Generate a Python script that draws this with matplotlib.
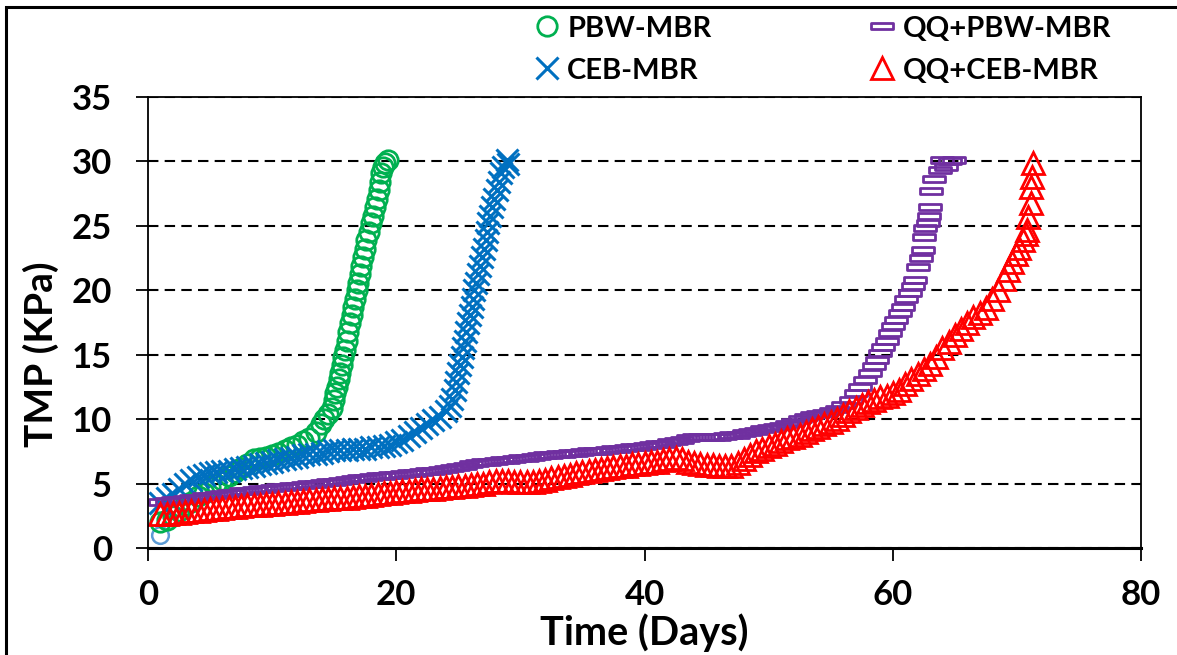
import matplotlib
matplotlib.use("Agg")
import matplotlib.pyplot as plt
from matplotlib.path import Path
from matplotlib.patches import Rectangle

plt.rcParams['font.family'] = ['Lato', 'DejaVu Sans']
plt.rcParams['font.weight'] = 'bold'

# PBW-MBR (green circles)
pbw_days = [1.0, 1.5, 2.0, 2.5, 3.0, 3.5, 4.0, 4.5, 5.0, 5.5, 6.0, 6.5, 7.0, 7.5, 8.0, 8.5,
            9.0, 9.5, 10.0, 10.5, 11.0, 11.5, 12.0, 12.5, 13.0, 13.5, 13.9, 14.2, 14.5, 14.8,
            14.95, 15.1, 15.2, 15.35, 15.5, 15.6, 15.7, 15.85, 16.0, 16.15, 16.3, 16.4, 16.5,
            16.65, 16.8, 16.95, 17.1, 17.2, 17.3, 17.45, 17.6, 17.8, 18.0, 18.15, 18.3, 18.45,
            18.6, 18.7, 18.75, 18.9, 19.1, 19.3]
pbw_tmp = [2.0, 2.2, 2.5, 2.9, 3.3, 3.6, 4.0, 4.3, 4.7, 5.0, 5.3, 5.6, 5.9, 6.2, 6.5, 6.9,
           7.0, 7.1, 7.2, 7.4, 7.6, 7.8, 8.0, 8.3, 8.5, 9.0, 9.6, 10.0, 10.4, 10.9,
           11.5, 12.0, 12.5, 13.1, 13.6, 14.2, 14.8, 15.4, 16.1, 16.8, 17.5, 18.1, 18.7,
           19.3, 20.0, 20.6, 21.3, 21.9, 22.6, 23.2, 23.9, 24.5, 25.2, 25.8, 26.5, 27.1,
           27.8, 28.4, 29.1, 29.6, 29.9, 30.1]

# CEB-MBR (blue crosses)
ceb_days = [1.0, 1.5, 2.0, 2.5, 3.0, 3.5, 4.0, 4.5, 5.0, 5.5, 6.0, 6.5, 7.0, 7.5, 8.0, 8.5,
            9.0, 9.5, 10.0, 10.5, 11.0, 11.5, 12.0, 12.5, 13.0, 13.5, 14.0, 14.5, 15.0, 15.5,
            16.0, 16.5, 17.0, 17.5, 18.0, 18.5, 19.0, 19.5, 20.0, 20.5, 21.0, 21.5, 22.0, 22.5,
            23.0, 23.5, 24.0, 24.3, 24.5, 24.7, 24.85, 25.0, 25.15, 25.3, 25.4, 25.5, 25.65,
            25.8, 25.95, 26.1, 26.2, 26.3, 26.45, 26.6, 26.75, 26.9, 27.05, 27.2, 27.3, 27.4,
            27.55, 27.7, 27.9, 28.1, 28.25, 28.4, 28.6, 28.9, 29.0]
ceb_tmp = [3.5, 3.9, 4.2, 4.6, 5.0, 5.3, 5.5, 5.7, 5.8, 5.9, 6.0, 6.0, 6.1, 6.2, 6.3, 6.4,
           6.5, 6.6, 6.7, 6.8, 6.9, 7.0, 7.1, 7.2, 7.3, 7.3, 7.4, 7.5, 7.6, 7.6,
           7.6, 7.7, 7.7, 7.7, 7.8, 7.8, 7.9, 8.0, 8.2, 8.4, 8.7, 9.0, 9.3, 9.6,
           9.9, 10.2, 10.6, 11.0, 11.6, 12.3, 12.9, 13.6, 14.2, 14.8, 15.5, 16.1, 16.8,
           17.5, 18.1, 18.7, 19.3, 20.0, 20.6, 21.3, 21.9, 22.6, 23.2, 23.9, 24.5, 25.2,
           25.8, 26.5, 27.1, 27.8, 28.4, 29.1, 29.6, 30.1, 29.8]

# QQ+PBW-MBR (purple bars)
qqpbw_days = [1.0, 1.5, 2.0, 2.5, 3.0, 3.5, 4.0, 4.5, 5.0, 5.5, 6.0, 6.5, 7.0, 7.5, 8.0, 8.5,
              9.0, 9.5, 10.0, 10.5, 11.0, 11.5, 12.0, 12.5, 13.0, 13.5, 14.0, 14.5, 15.0, 15.5,
              16.0, 16.5, 17.0, 17.5, 18.0, 18.5, 19.0, 19.5, 20.0, 20.5, 21.0, 21.5, 22.0, 22.5,
              23.0, 23.5, 24.0, 24.5, 25.0, 25.5, 26.0, 26.5, 27.0, 27.5, 28.0, 28.5, 29.0, 29.5,
              30.0, 30.5, 31.0, 31.5, 32.0, 32.5, 33.0, 33.5, 34.0, 34.5, 35.0, 35.5, 36.0, 36.5,
              37.0, 37.5, 38.0, 38.5, 39.0, 39.5, 40.0, 40.5, 41.0, 41.5, 42.0, 42.5, 43.0, 43.5,
              44.0, 44.5, 45.0, 45.5, 46.0, 46.5, 47.0, 47.5, 48.0, 48.5, 49.0, 49.5, 50.0, 50.5,
              51.0, 51.5, 52.0, 52.5, 53.0, 53.5, 54.0, 54.5, 55.0, 55.5, 56.0, 56.6, 57.0, 57.4,
              57.8, 58.2, 58.45, 58.7, 58.95, 59.2, 59.5, 59.8, 60.05, 60.3, 60.55, 60.8, 61.1,
              61.4, 61.6, 61.8, 62.0, 62.3, 62.4, 62.5, 62.6, 62.8, 62.9, 63.0, 63.1, 63.3, 63.8,
              64.0, 64.3, 64.6, 64.9]
qqpbw_tmp = [3.6, 3.65, 3.7, 3.75, 3.8, 3.85, 3.9, 4.0, 4.05, 4.1, 4.2, 4.25, 4.3, 4.4, 4.45, 4.5,
             4.55, 4.6, 4.65, 4.7, 4.75, 4.8, 4.85, 4.9, 4.95, 5.0, 5.05, 5.1, 5.15, 5.2,
             5.3, 5.35, 5.4, 5.45, 5.5, 5.55, 5.6, 5.65, 5.7, 5.75, 5.8, 5.85, 5.9, 5.95,
             6.0, 6.05, 6.1, 6.2, 6.3, 6.4, 6.5, 6.6, 6.7, 6.7, 6.75, 6.8, 6.85, 6.9,
             6.95, 7.0, 7.1, 7.15, 7.2, 7.25, 7.3, 7.3, 7.35, 7.4, 7.45, 7.5, 7.5, 7.55,
             7.6, 7.65, 7.7, 7.75, 7.8, 7.85, 7.9, 8.0, 8.05, 8.1, 8.2, 8.3, 8.4, 8.5,
             8.6, 8.6, 8.6, 8.6, 8.65, 8.7, 8.75, 8.8, 8.9, 9.0, 9.1, 9.2, 9.3, 9.4,
             9.5, 9.6, 9.8, 10.0, 10.2, 10.3, 10.4, 10.5, 10.6, 10.8, 11.1, 11.5, 12.0, 12.5,
             13.0, 13.6, 14.1, 14.6, 15.1, 15.6, 16.1, 16.7, 17.2, 17.7, 18.2, 18.7, 19.3,
             19.8, 20.3, 20.8, 21.8, 22.5, 23.1, 24.1, 24.8, 25.2, 25.8, 26.5, 27.7, 28.6, 29.3,
             30.1, 29.6, 30.0, 30.1]

# QQ+CEB-MBR (red triangles)
qqceb_days = [1.0, 1.5, 2.0, 2.5, 3.0, 3.5, 4.0, 4.5, 5.0, 5.5, 6.0, 6.5, 7.0, 7.5, 8.0, 8.5,
              9.0, 9.5, 10.0, 10.5, 11.0, 11.5, 12.0, 12.5, 13.0, 13.5, 14.0, 14.5, 15.0, 15.5,
              16.0, 16.5, 17.0, 17.5, 18.0, 18.5, 19.0, 19.5, 20.0, 20.5, 21.0, 21.5, 22.0, 22.5,
              23.0, 23.5, 24.0, 24.5, 25.0, 25.5, 26.0, 26.5, 27.0, 27.5, 28.0, 28.5, 29.0, 29.5,
              30.0, 30.5, 31.0, 31.5, 32.0, 32.5, 33.0, 33.5, 34.0, 34.5, 35.0, 35.5, 36.0, 36.5,
              37.0, 37.5, 38.0, 38.5, 39.0, 39.5, 40.0, 40.5, 41.0, 41.5, 42.0, 42.5, 43.0, 43.5,
              44.0, 44.5, 45.0, 45.5, 46.0, 46.5, 47.0, 47.5, 48.0, 48.5, 49.0, 49.5, 50.0, 50.5,
              51.0, 51.5, 52.0, 52.5, 53.0, 53.5, 54.0, 54.5, 55.0, 55.5, 56.0, 56.5, 57.0, 57.5,
              58.0, 58.5, 59.0, 59.5, 60.0, 60.5, 61.0, 61.5, 62.0, 62.5, 63.0, 63.5, 64.0, 64.5,
              65.0, 65.5, 66.0, 66.5, 67.0, 67.5, 68.0, 68.5, 69.0, 69.3, 69.6, 69.9, 70.2, 70.5,
              70.7, 70.8, 70.9, 71.1, 71.1, 71.2, 71.3]
qqceb_tmp = [2.6, 2.65, 2.7, 2.75, 2.8, 2.85, 2.9, 2.95, 3.0, 3.05, 3.1, 3.15, 3.2, 3.25, 3.3, 3.3,
             3.35, 3.4, 3.45, 3.5, 3.5, 3.55, 3.6, 3.65, 3.7, 3.75, 3.8, 3.8, 3.85, 3.9,
             3.9, 3.95, 4.0, 4.05, 4.1, 4.2, 4.25, 4.3, 4.35, 4.4, 4.45, 4.5, 4.55, 4.6,
             4.6, 4.65, 4.7, 4.75, 4.8, 4.85, 4.9, 4.95, 5.0, 5.1, 5.2, 5.2, 5.2, 5.1,
             5.1, 5.1, 5.15, 5.2, 5.3, 5.4, 5.5, 5.6, 5.7, 5.8, 5.9, 6.0, 6.05, 6.1,
             6.2, 6.3, 6.35, 6.4, 6.5, 6.55, 6.6, 6.65, 6.7, 6.8, 6.9, 7.0, 6.9, 6.7,
             6.6, 6.5, 6.45, 6.45, 6.4, 6.35, 6.4, 6.6, 6.9, 7.2, 7.5, 7.7, 7.9, 8.1,
             8.3, 8.5, 8.6, 8.8, 9.0, 9.2, 9.4, 9.6, 9.8, 10.0, 10.3, 10.6, 10.9, 11.1,
             11.3, 11.5, 11.7, 11.8, 12.0, 12.3, 12.7, 13.1, 13.5, 13.9, 14.3, 14.8, 15.5, 16.0,
             16.5, 17.0, 17.5, 17.9, 18.2, 18.6, 19.3, 20.0, 20.9, 21.6, 22.2, 22.8, 23.3, 23.9,
             24.4, 24.7, 25.7, 26.8, 28.0, 28.8, 29.9]

# lone light-blue point at the start
extra_days = [1.0]
extra_tmp = [1.0]

x_ticks = [0, 20, 40, 60, 80]
y_ticks = [0, 5, 10, 15, 20, 25, 30, 35]

bar_marker = Path([(-1, -0.28), (1, -0.28), (1, 0.28), (-1, 0.28), (-1, -0.28)],
                  [Path.MOVETO, Path.LINETO, Path.LINETO, Path.LINETO, Path.CLOSEPOLY])

fig = plt.figure(figsize=(11.77, 6.55), dpi=100)
ax = fig.add_axes([148 / 1177, 1 - 548 / 655, 993 / 1177, 451 / 655])

ax.plot(extra_days, extra_tmp, ls='none', marker='o', ms=12, mfc='none', mec='#5B9BD5', mew=1.8)
l1, = ax.plot(pbw_days, pbw_tmp, ls='none', marker='o', ms=14, mfc='none', mec='#00B050', mew=2,
              label='PBW-MBR')
l2, = ax.plot(ceb_days, ceb_tmp, ls='none', marker='x', ms=15.5, mec='#0070C0', mew=2.2,
              label='CEB-MBR')
l3, = ax.plot(qqpbw_days, qqpbw_tmp, ls='none', marker=bar_marker, ms=15.5, mfc='none', mec='#7030A0',
              mew=2, label='QQ+PBW-MBR')
l4, = ax.plot(qqceb_days, qqceb_tmp, ls='none', marker='^', ms=16, mfc='none', mec='#FF0000', mew=2,
              label='QQ+CEB-MBR')

ax.set_xlim(0, 80)
ax.set_ylim(0, 35)
ax.set_xticks(x_ticks)
ax.set_yticks(y_ticks)
ax.yaxis.grid(True, linestyle=(0, (5, 3)), color='black', lw=1.5)
ax.set_axisbelow(True)

for s in ['left', 'top', 'right']:
    ax.spines[s].set_linewidth(1.3)
ax.spines['bottom'].set_linewidth(2.2)
ax.tick_params(axis='both', direction='out', length=9, width=1.3, labelsize=25)
ax.tick_params(axis='x', pad=13)
ax.tick_params(axis='y', pad=17)

ax.set_xlabel('Time (Days)', fontsize=28.5, fontweight='bold')
ax.set_ylabel('TMP (KPa)', fontsize=28, fontweight='bold')
ax.xaxis.set_label_coords(0.5, -0.145)
ax.yaxis.set_label_coords(-0.09, 0.43)

fig.legend(handles=[l1, l2, l3, l4], ncol=2, loc='upper left', bbox_to_anchor=(525 / 1177, 1 - 4 / 655),
           frameon=False, fontsize=21, handlelength=0.7, handletextpad=0.35, columnspacing=5.5,
           labelspacing=0.55, numpoints=1, borderaxespad=0)

# outer frame around the whole picture
fig.patches.append(Rectangle((6 / 1177, -0.1), 2, 1.1 - 7 / 655, transform=fig.transFigure,
                             fill=False, ec='black', lw=2.2))

fig.savefig('out.png', dpi=100)
